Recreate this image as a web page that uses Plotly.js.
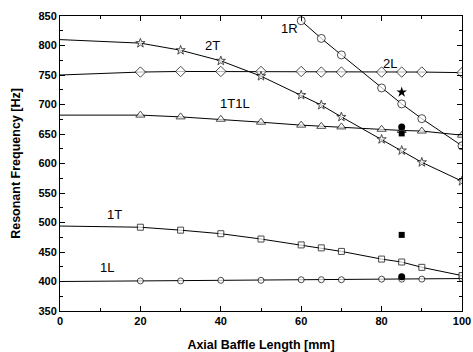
<!DOCTYPE html>
<html><head><meta charset="utf-8">
<script src="https://cdn.plot.ly/plotly-3.0.1.min.js"></script>
<style>body{margin:0;background:#fff}#c{width:473px;height:352px}</style>
</head><body><div id="c"></div>
<script>
const xAll = [0, 20, 30, 40, 50, 60, 65, 70, 80, 85, 90, 100];
const f1L   = [400, 401, 401, 402, 402, 403, 403, 403, 404, 404, 404, 405];
const f1T   = [494, 492, 487, 481, 472, 462, 457, 451, 438, 433, 424, 410];
const f1T1L = [682, 682, 679, 675, 670, 665, 663, 662, 658, 656, 655, 648];
const f2L   = [750, 755, 756, 756, 756, 756, 755, 755, 755, 755, 755, 754];
const f2T   = [810, 804, 792, 774, 748, 716, 699, 679, 641, 622, 602, 570];
const x1R   = [60, 65, 70, 80, 85, 90, 100];
const f1R   = [842, 812, 784, 728, 701, 676, 630];
// filled (measured) points at 85 mm
const xMeas = [85];
const m1L = [408], m1T = [479], m1T1L_a = [662], m1T1L_b = [651], m2T = [721];
const labels = [
  {t:'2T', x:38, y:800}, {t:'1R', x:57, y:828}, {t:'2L', x:82, y:770},
  {t:'1T1L', x:43.5, y:701}, {t:'1T', x:13.5, y:513}, {t:'1L', x:11.7, y:423}
];
const line = {color:'#000', width:1};
function s(x, y, sym, size, hideFirst){
  const sz = x.map((v, i) => (hideFirst && i === 0) ? 0 : size);
  return {x:x, y:y, mode:'lines+markers', line:line,
    marker:{symbol:sym, size:sz, color:'#fff', line:{color:'#000', width:1}}, showlegend:false, hoverinfo:'skip'};
}
function m(x, y, sym, size){
  return {x:x, y:y, mode:'markers', marker:{symbol:sym, size:size, color:'#000'}, showlegend:false, hoverinfo:'skip'};
}
const data = [
  s(xAll, f1L, 'circle', 6, true),
  s(xAll, f1T, 'square', 6, true),
  s(xAll, f1T1L, 'triangle-up', 8, true),
  s(xAll, f2L, 'diamond', 8, true),
  s(xAll, f2T, 'star', 7, true),
  s(x1R, f1R, 'circle', 8, false),
  m(xMeas, m1L, 'circle', 7),
  m(xMeas, m1T, 'square', 6),
  m(xMeas, m1T1L_a, 'circle', 7),
  m(xMeas, m1T1L_b, 'square', 6),
  m(xMeas, m2T, 'star', 8)
];
const fam = 'Liberation Sans, Arial, sans-serif';
const fontT = {family:fam, size:11, color:'#000', weight:'bold'};
const fontTitle = {family:fam, size:12.5, color:'#000', weight:'bold'};
const layout = {
  width:473, height:352, paper_bgcolor:'#fff', plot_bgcolor:'#fff',
  margin:{l:60, r:11, t:16, b:41},
  xaxis:{range:[0,100], dtick:20, tick0:0, ticks:'inside', ticklen:5, tickcolor:'#000',
    minor:{dtick:10, ticks:'inside', ticklen:3, tickcolor:'#000'},
    showline:true, linecolor:'#000', linewidth:1, mirror:'ticks', showgrid:false, zeroline:false,
    tickfont:fontT, title:{text:'Axial Baffle Length [mm]', font:fontTitle, standoff:15}},
  yaxis:{range:[350,850], dtick:50, tick0:350, ticks:'inside', ticklen:5, tickcolor:'#000',
    minor:{dtick:25, ticks:'inside', ticklen:3, tickcolor:'#000'},
    showline:true, linecolor:'#000', linewidth:1, mirror:'ticks', showgrid:false, zeroline:false,
    tickfont:fontT, title:{text:'Resonant Frequency [Hz]', font:fontTitle, standoff:15}},
  annotations: labels.map(l => ({x:l.x, y:l.y, text:l.t, showarrow:false, xref:'x', yref:'y',
    font:{family:fam, size:13, color:'#000'}}))
};
Plotly.newPlot('c', data, layout, {staticPlot:true});
</script></body></html>
